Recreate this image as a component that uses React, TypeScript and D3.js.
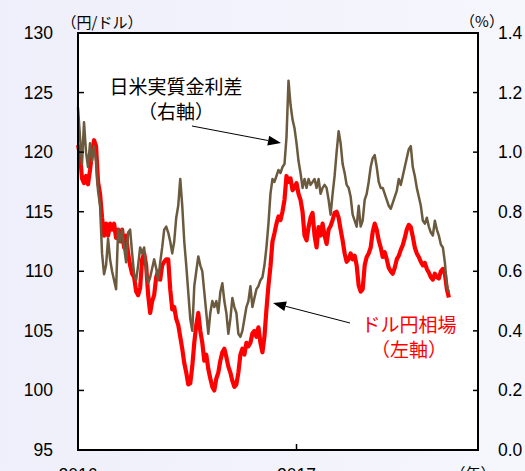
import React from 'react';
import * as d3 from 'd3';

// USD/JPY (left axis, yen per dollar)
const usdJpy = [
  120.6,119.8,117.8,117.4,118.0,117.3,118.5,120.0,121.0,120.5,
  117.5,116.5,114.5,113.0,114.0,113.0,114.0,113.5,114.0,112.8,
  113.5,112.5,113.5,112.0,113.0,111.5,110.5,109.8,109.5,108.3,
  108.0,108.6,111.0,111.5,110.5,108.0,106.5,107.5,108.0,109.5,
  110.0,109.3,110.5,110.8,111.0,111.0,108.5,106.8,107.0,106.0,
  105.5,104.5,103.5,102.3,101.5,100.5,100.6,102.0,104.0,105.5,
  106.5,105.0,104.0,102.5,103.0,101.8,101.0,100.3,100.0,101.0,
  101.5,102.5,103.2,103.5,102.8,102.0,101.5,100.8,100.3,100.5,
  101.5,103.0,103.5,103.0,104.0,103.7,104.0,104.8,105.0,104.5,
  105.3,104.0,103.2,104.5,106.8,108.8,110.4,112.5,113.2,114.0,
  114.6,114.3,115.0,116.0,118.0,117.5,117.8,116.8,117.0,117.4,
  116.5,116.0,115.0,113.0,112.6,113.7,114.5,114.9,113.0,112.0,
  113.7,113.0,114.0,113.0,112.3,113.5,113.8,114.3,114.9,115.0,
  114.5,113.5,112.6,111.5,110.8,111.0,111.5,111.0,111.3,110.5,
  108.8,108.3,108.5,110.5,111.2,111.5,112.0,113.3,114.0,113.5,
  112.6,112.0,111.2,111.6,111.0,110.3,110.0,109.8,110.3,111.0,
  111.3,111.8,112.2,112.8,113.5,113.9,113.7,112.9,112.0,111.5,
  111.2,110.8,110.5,110.7,110.2,109.9,109.5,109.3,109.8,109.5,
  109.4,110.0,110.2,109.8,108.5,107.8,
];

// Japan-US real interest rate differential (right axis, %)
const rateSpread = [
  1.15,1.05,0.96,1.10,1.00,0.95,1.03,0.97,1.02,0.97,
  0.87,0.82,0.66,0.59,0.62,0.71,0.64,0.60,0.57,0.54,
  0.74,0.70,0.74,0.68,0.63,0.73,0.74,0.66,0.59,0.57,
  0.62,0.68,0.66,0.68,0.60,0.56,0.58,0.61,0.64,0.61,
  0.57,0.63,0.68,0.74,0.75,0.73,0.70,0.66,0.70,0.78,
  0.82,0.91,0.82,0.70,0.62,0.53,0.44,0.40,0.55,0.60,
  0.65,0.62,0.60,0.53,0.46,0.39,0.46,0.50,0.48,0.50,
  0.46,0.53,0.56,0.50,0.46,0.39,0.44,0.51,0.48,0.46,
  0.39,0.38,0.40,0.44,0.48,0.50,0.55,0.48,0.51,0.54,
  0.55,0.57,0.58,0.62,0.68,0.76,0.86,0.91,0.90,0.92,
  0.94,0.93,0.95,0.96,1.05,1.24,1.16,1.11,1.08,1.03,
  0.97,0.93,0.88,0.91,0.88,0.91,0.89,0.90,0.91,0.88,
  0.91,0.86,0.88,0.89,0.88,0.84,0.79,0.86,0.92,1.00,
  1.07,1.03,0.96,0.93,0.89,0.88,0.85,0.79,0.77,0.75,
  0.82,0.75,0.77,0.84,0.86,0.90,0.95,0.98,0.99,0.95,
  0.90,0.88,0.88,0.86,0.84,0.82,0.81,0.83,0.85,0.87,
  0.91,0.89,0.92,0.95,0.98,1.01,1.02,0.95,0.92,0.88,
  0.85,0.82,0.77,0.76,0.78,0.75,0.73,0.72,0.77,0.74,
  0.72,0.69,0.68,0.63,0.55,0.53,
];

const seriesStart = new Date(2016, 0, 1);
const sampleStepDays = 3.358;
const dates = usdJpy.map((_, i) => new Date(seriesStart.getTime() + i * sampleStepDays * 86400000));

const leftTicks = [95, 100, 105, 110, 115, 120, 125, 130];
const rightTicks = [0, 0.2, 0.4, 0.6, 0.8, 1.0, 1.2, 1.4];
const yearTicks = [new Date(2016, 0, 1), new Date(2017, 0, 1)];

const NUM_FONT = "'Liberation Sans', Arial, sans-serif";
const CJK_FONT = "'Noto Sans CJK JP', 'Noto Sans', sans-serif";

function Arrow({ x1, y1, x2, y2 }: { x1: number; y1: number; x2: number; y2: number }) {
  const ang = Math.atan2(y2 - y1, x2 - x1);
  const len = 13, half = 5;
  const bx = x2 - len * Math.cos(ang), by = y2 - len * Math.sin(ang);
  const px = -Math.sin(ang) * half, py = Math.cos(ang) * half;
  return (
    <g>
      <line x1={x1} y1={y1} x2={bx} y2={by} stroke="#000" strokeWidth={1} />
      <polygon points={`${x2},${y2} ${bx + px},${by + py} ${bx - px},${by - py}`} fill="#000" />
    </g>
  );
}

export default function App() {
  const W = 525, H = 471;
  const L = 78, R = 478, T = 33, B = 450;
  const x = d3.scaleTime().domain([new Date(2016, 0, 1), new Date(2017, 10, 1)]).range([L, R]);
  const yL = d3.scaleLinear().domain([95, 130]).range([B, T]);
  const yR = d3.scaleLinear().domain([0, 1.4]).range([B, T]);

  const redLine = d3.line<number>().x((_, i) => x(dates[i])).y(d => yL(d))(usdJpy) || '';
  const brownLine = d3.line<number>().x((_, i) => x(dates[i])).y(d => yR(d))(rateSpread) || '';

  return (
    <svg width={W} height={H} style={{ position: 'absolute', left: 0, top: 0 }}>
      <defs>
        <linearGradient id="bg" x1="0" y1="0" x2="1" y2="0">
          <stop offset="0" stopColor="#eeeffa" />
          <stop offset="1" stopColor="#f6f6fd" />
        </linearGradient>
      </defs>
      <rect x={0} y={0} width={W} height={H} fill="url(#bg)" />
      <rect x={L} y={T} width={R - L} height={B - T} fill="#fff" />

      <path d={redLine} fill="none" stroke="#ff0000" strokeWidth={4.2} strokeLinejoin="round" />
      <path d={brownLine} fill="none" stroke="#6b5a3e" strokeWidth={2.5} strokeLinejoin="round" />

      <rect x={L} y={T} width={R - L} height={B - T} fill="none" stroke="#000" strokeWidth={2} />

      {leftTicks.map(t => (
        <g key={'l' + t}>
          <line x1={L} x2={L + 6} y1={yL(t)} y2={yL(t)} stroke="#000" strokeWidth={1.5} />
          <text x={53} y={yL(t)} textAnchor="end" dominantBaseline="central" fontFamily={NUM_FONT} fontSize={17.5} fill="#000">{t}</text>
        </g>
      ))}
      {rightTicks.map(t => (
        <g key={'r' + t}>
          <line x1={R - 5} x2={R} y1={yR(t)} y2={yR(t)} stroke="#000" strokeWidth={1.5} />
          <text x={498} y={yR(t)} textAnchor="start" dominantBaseline="central" fontFamily={NUM_FONT} fontSize={17.5} fill="#000">{t.toFixed(1)}</text>
        </g>
      ))}
      {yearTicks.map(d => (
        <g key={'x' + d.getFullYear()}>
          <line x1={x(d)} x2={x(d)} y1={B} y2={B - 6} stroke="#000" strokeWidth={1.5} />
          <text x={x(d)} y={481} textAnchor="middle" fontFamily={NUM_FONT} fontSize={17.5} fill="#000">{d.getFullYear()}</text>
        </g>
      ))}

      <text x={102} y={21} textAnchor="middle" dominantBaseline="central" fontFamily={CJK_FONT} fontSize={15} fill="#000">（円/ドル）</text>
      <text x={482} y={20} textAnchor="middle" dominantBaseline="central" fontFamily={CJK_FONT} fontSize={15} fill="#000">（%）</text>
      <text x={473} y={472} textAnchor="middle" dominantBaseline="central" fontFamily={CJK_FONT} fontSize={15} fill="#000">（年）</text>

      <text x={176} y={85} textAnchor="middle" dominantBaseline="central" fontFamily={CJK_FONT} fontSize={19} fill="#000">日米実質金利差</text>
      <text x={176} y={110} textAnchor="middle" dominantBaseline="central" fontFamily={CJK_FONT} fontSize={19} fill="#000">（右軸）</text>
      <Arrow x1={192} y1={126} x2={281} y2={143} />

      <text x={409} y={323} textAnchor="middle" dominantBaseline="central" fontFamily={CJK_FONT} fontSize={19} fill="#ff0000">ドル円相場</text>
      <text x={409} y={348} textAnchor="middle" dominantBaseline="central" fontFamily={CJK_FONT} fontSize={19} fill="#ff0000">（左軸）</text>
      <Arrow x1={350} y1={323} x2={273} y2={303} />
    </svg>
  );
}
